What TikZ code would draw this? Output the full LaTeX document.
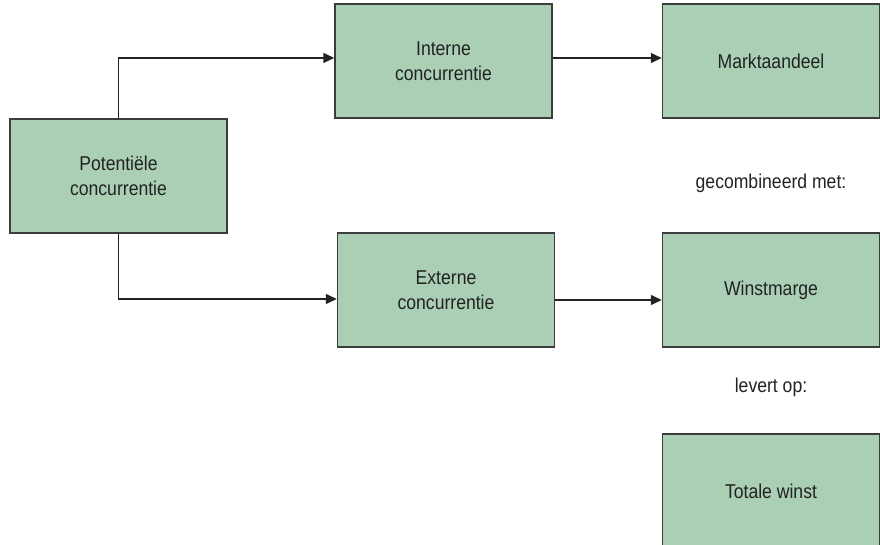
\documentclass[tikz,border=0pt]{standalone}
\usepackage{fontspec}
\setmainfont{Liberation Sans}[FakeStretch=0.88]
\usetikzlibrary{arrows.meta}

\definecolor{boxgreen}{RGB}{170,207,180}
\definecolor{boxline}{RGB}{60,60,60}
\definecolor{txt}{RGB}{34,34,34}

\begin{document}
\begin{tikzpicture}[x=1pt,y=1pt,
  box/.style={draw=boxline,fill=boxgreen,line width=1.5pt,minimum width=217pt,
    minimum height=114pt,inner sep=0pt,align=center,text=txt,
    font=\fontsize{20}{25}\selectfont},
  lbl/.style={text=txt,font=\fontsize{20}{25}\selectfont},
  pijl/.style={line width=1.5pt,draw=txt,-{Triangle[length=11pt,width=10pt]}}]
  \useasboundingbox (0,0) rectangle (880,545);
  % kolom links en midden
  \node[box] (pot) at (118.5,369) {Potenti\"ele\\concurrentie};
  \node[box] (int) at (443.5,484) {Interne\\concurrentie};
  \node[box] (ext) at (446,255) {Externe\\concurrentie};
  % kolom rechts
  \node[box] (mkt) at (771,484) {Marktaandeel};
  \node[lbl] (gec) at (771,362) {gecombineerd met:};
  \node[box] (win) at (771,255) {Winstmarge};
  \node[lbl] (lev) at (771,158) {levert op:};
  \node[box] (tot) at (771,54) {Totale winst};
  % verbindingen
  \draw[pijl] (pot.north) |- ([yshift=3pt]int.west);
  \draw[pijl] (pot.south) |- ([yshift=-9pt]ext.west);
  \draw[pijl] ([yshift=3pt]int.east) -- ([yshift=3pt]mkt.west);
  \draw[pijl] ([yshift=-10pt]ext.east) -- ([yshift=-10pt]win.west);
\end{tikzpicture}
\end{document}
